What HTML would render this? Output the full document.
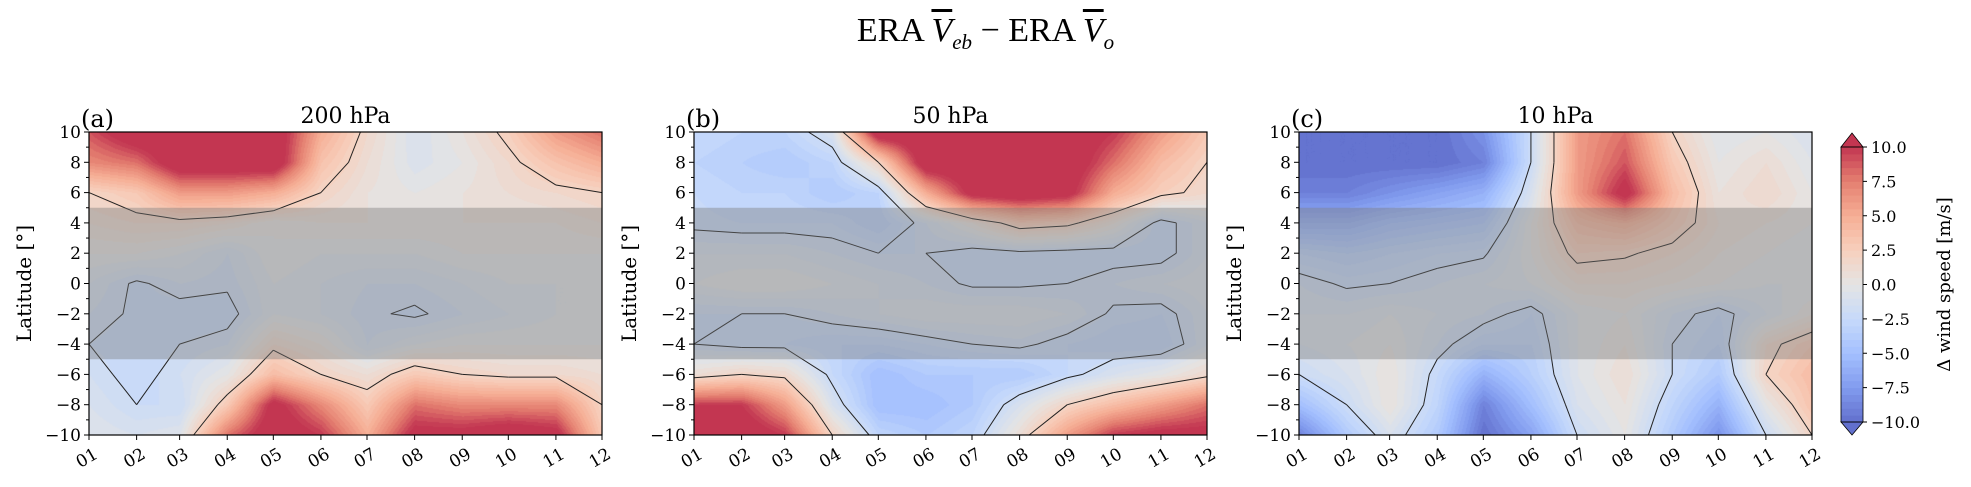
<!DOCTYPE html>
<html><head><meta charset="utf-8"><style>
body{margin:0;background:#fff;width:1971px;height:487px;overflow:hidden;position:relative;font-family:"DejaVu Serif","Liberation Serif",serif}
canvas{position:absolute}
svg{position:absolute;left:0;top:0}
</style></head><body>
<canvas id="c0" width="513" height="303" style="left:89px;top:132px"></canvas>
<canvas id="c1" width="513" height="303" style="left:694px;top:132px"></canvas>
<canvas id="c2" width="513" height="303" style="left:1299px;top:132px"></canvas>
<svg id="s" width="1971" height="487"></svg>
<script>
const months=["01","02","03","04","05","06","07","08","09","10","11","12"];
const monthDays=[0,31,59,90,120,151,181,212,243,273,304,334];
const lats=[10,8,6,4,2,0,-2,-4,-6,-8,-10];
const yTicks=[-10,-8,-6,-4,-2,0,2,4,6,8,10];
const cbTicks=["-10.0","-7.5","-5.0","-2.5","0.0","2.5","5.0","7.5","10.0"];
const panelTitles=["200 hPa","50 hPa","10 hPa"];
const panelLetters=["(a)","(b)","(c)"];
const dataA=[
[9,12,12,12,12,5,1.5,-1,0.5,2.5,6,8],
[7,8,12,12,12,3.5,1,-0.8,0,1.5,3.5,5],
[2,3,6,6,5,2,0.5,0,0.5,1,1.5,2],
[1,1.5,1.5,1,0,0.5,0.5,0.5,0.5,0.5,0.5,1],
[0,0,-0.5,-1.5,0,-0.5,-0.5,-0.5,0,0,0,0],
[-1,-2.2,-1.5,-1.8,-0.5,-1,-1.5,-1.5,-1,-0.5,-0.5,-0.5],
[-1.5,-2.2,-2.5,-2.5,-0.5,-1,-1.8,-2.2,-1.5,-1,-0.5,-0.5],
[-2,-2.5,-2,-1.5,1.5,0.5,-1.5,-0.5,0,0,0,0],
[-1.5,-2.5,-1.5,0,4,2,1,3,2,1.5,1.5,1],
[-1,-2,-2,3,11,7,3,8,7,7,7,2],
[-0.5,-1,-0.5,8,12,10,5,11,11,12,11,3]];
const dataB=[
[-2.5,-3,-3,-1,12,12,12,12,12,10,6,3],
[-3,-3.5,-4,-3,2,12,12,12,12,8,4,2],
[-2.5,-3,-3,-4,-3,5,11,12,11,5,2.5,1.5],
[-2.3,-2.5,-2.5,-2.5,-3.5,-1.5,0.5,3,2.5,0.5,-2.5,-1],
[-1,-1,-1,-1.5,-2,-2,-2.5,-2.3,-2.5,-2.5,-2.5,-1],
[-0.5,0,0,-0.5,-1,-1.5,-2.2,-2.2,-2,-1.5,-1,-0.5],
[-2,-2,-2,-1.5,-1,-0.5,-0.5,-0.5,-1,-2.2,-2.5,-1],
[-2,-2.5,-2.5,-3,-3,-2.5,-2,-1.7,-2.5,-3,-3,-1],
[1,2,1.5,-2.5,-5,-4,-4,-4,-2.5,-1,0,1.5],
[10,10,6,-1,-5,-5,-4,-1,2,4,6,8],
[11,12,10,2,-3,-4,-3,1,6,10,11,11]];
const dataC=[
[-10,-10,-10,-10,-8,-2,6,8,2,-0.5,0,-1],
[-10,-10,-10,-10,-9,-2,6,9,3,0,1,-0.5],
[-9,-9,-8,-7,-6,-1,6,11,4,0.5,1.5,0],
[-6,-6,-5,-4.5,-4,0,4,5,3,1,0.5,0],
[-3,-3.5,-3,-2.5,-2.2,0,2.5,2.2,1.5,0.5,0,-0.5],
[-1.5,-2.2,-2,-1.5,-1,-0.5,1,1,0.5,0,-0.5,-0.5],
[-1,-1,-0.5,-1,-1.5,-2.5,-0.5,0,-1.5,-2.5,-1,0.5],
[-1,-0.5,0,-1.5,-3,-3,-0.5,0.5,-2,-3,1.5,3],
[-2,-1,0.5,-2.5,-6,-3.5,-0.5,1,-2,-4,2,4],
[-5,-2,0.5,-3,-9,-5,-1,0.5,-3,-6,0,3.5],
[-9,-4,-1,-4,-10,-7,-2,0,-4,-8,-2,2]];
const panels=[dataA,dataB,dataC];
const PX=[89,694,1299],PY=132,PW=513,PH=303;
const cw=[[59,76,192],[98,130,234],[141,176,254],[184,208,249],[221,221,221],[245,196,173],[244,154,123],[222,96,77],[180,4,38]];
function cmap(v){let t=(Math.max(-10,Math.min(10,v))+10)/20;let f=t*8,i=Math.min(7,Math.floor(f)),r=f-i;
return cw[i].map((c,k)=>Math.round((c+(cw[i+1][k]-c)*r)*0.8+51));}
function xs(d){return d/334*PW;}
function ys(l){return (10-l)/20*PH;}
function interp(g,d,l){let i=0;while(i<10&&d>monthDays[i+1])i++;let tx=(d-monthDays[i])/(monthDays[i+1]-monthDays[i]);
let fy=(10-l)/2,j=Math.min(9,Math.floor(fy)),ty=fy-j;
let a=g[j][i],b=g[j][i+1],c=g[j+1][i],e=g[j+1][i+1];
return a*(1-tx)*(1-ty)+b*tx*(1-ty)+c*(1-tx)*ty+e*tx*ty;}
panels.forEach((g,p)=>{const ctx=document.getElementById('c'+p).getContext('2d');const im=ctx.createImageData(PW,PH);
for(let y=0;y<PH;y++)for(let x=0;x<PW;x++){let v=interp(g,x/PW*334,10-y/PH*20);v=Math.floor(v*2)/2+0.25;const c=cmap(v);const o=(y*PW+x)*4;im.data[o]=c[0];im.data[o+1]=c[1];im.data[o+2]=c[2];im.data[o+3]=255;}
ctx.putImageData(im,0,0);});
const S=document.getElementById('s');const NS='http://www.w3.org/2000/svg';
function el(t,a,txt){const e=document.createElementNS(NS,t);for(const k in a)e.setAttribute(k,a[k]);if(txt!==undefined)e.textContent=txt;S.appendChild(e);return e;}
panels.forEach((g,p)=>{const ox=PX[p];
[-2,2].forEach(lv=>{for(let j=0;j<10;j++)for(let i=0;i<11;i++){
const pts=[[monthDays[i],lats[j],g[j][i]],[monthDays[i+1],lats[j],g[j][i+1]],[monthDays[i+1],lats[j+1],g[j+1][i+1]],[monthDays[i],lats[j+1],g[j+1][i]]];
const cr=[];for(let k=0;k<4;k++){const A=pts[k],B=pts[(k+1)%4];const a=A[2]===lv?lv+1e-6:A[2],b=B[2]===lv?lv+1e-6:B[2];
if((a>lv)!==(b>lv)){const t=(lv-a)/(b-a);cr.push([A[0]+(B[0]-A[0])*t,A[1]+(B[1]-A[1])*t]);}}
for(let k=0;k+1<cr.length;k+=2){const ln=el('line',{x1:ox+xs(cr[k][0]),y1:PY+ys(cr[k][1]),x2:ox+xs(cr[k+1][0]),y2:PY+ys(cr[k+1][1]),stroke:'#222','stroke-width':1});

}}});
const band=el('rect',{x:ox,y:PY+ys(5),width:PW,height:ys(-5)-ys(5),fill:'rgba(120,120,120,0.4)'});

const fr=el('rect',{x:ox,y:PY,width:PW,height:PH,fill:'none',stroke:'#000','stroke-width':1.2});

months.forEach((m,k)=>{const x=ox+xs(monthDays[k]);el('line',{x1:x,y1:PY+PH,x2:x,y2:PY+PH+5,stroke:'#000'});
const t=el('text',{x:x+4,y:PY+PH+12,'font-size':17,'text-anchor':'end',transform:`rotate(-30 ${x+4} ${PY+PH+12})`,'dominant-baseline':'hanging'},m);
});
for(let l=-10;l<=10;l++){const y=PY+ys(l);el('line',{x1:ox,y1:y,x2:ox-(l%2?3:5),y2:y,stroke:'#000'});}
yTicks.forEach(l=>{const t=el('text',{x:ox-8,y:PY+ys(l)+6,'font-size':17,'text-anchor':'end'},String(l).replace('-','\u2212'));
});
const yl=el('text',{x:0,y:0,'font-size':20,'text-anchor':'middle',transform:`translate(${ox-58} ${PY+PH/2}) rotate(-90)`},'Latitude [°]');

const pt=el('text',{x:ox+PW/2,y:PY-9,'font-size':22,'text-anchor':'middle'},panelTitles[p]);

const pl=el('text',{x:ox-8,y:PY-5,'font-size':24},panelLetters[p]);

});
const CX=1841,CW=22,CT=147,CB=422;
for(let k=0;k<40;k++){const v=-10+k*0.5+0.25;const c=cmap(v);const y=CB-(k+1)*(CB-CT)/40;
const r=el('rect',{x:CX,y:y,width:CW,height:(CB-CT)/40+0.5,fill:`rgb(${c})`});}
el('polygon',{points:`${CX},${CT} ${CX+CW/2},133 ${CX+CW},${CT}`,fill:`rgb(${cmap(10)})`,stroke:'#000','stroke-width':0.8});
el('polygon',{points:`${CX},${CB} ${CX+CW/2},435 ${CX+CW},${CB}`,fill:`rgb(${cmap(-10)})`,stroke:'#000','stroke-width':0.8});
el('rect',{x:CX,y:CT,width:CW,height:CB-CT,fill:'none',stroke:'#000','stroke-width':0.8});
cbTicks.forEach((s,k)=>{const y=CB-k*(CB-CT)/8;el('line',{x1:CX+CW,y1:y,x2:CX+CW+4,y2:y,stroke:'#000'});
const t=el('text',{x:CX+CW+8,y:y+6,'font-size':16},s.replace('-','\u2212'));});
const cl=el('text',{x:0,y:0,'font-size':18,'text-anchor':'middle',transform:`translate(1950 ${(CT+CB)/2}) rotate(-90)`},'Δ wind speed [m/s]');

</script>
<div style="position:absolute;left:0;width:1971px;top:12px;text-align:center;font-family:'Liberation Serif',serif;font-size:34px">ERA <i style="text-decoration:overline">V</i><sub style="font-size:21px"><i>eb</i></sub> − ERA <i style="text-decoration:overline">V</i><sub style="font-size:21px"><i>o</i></sub></div>
</body></html>
